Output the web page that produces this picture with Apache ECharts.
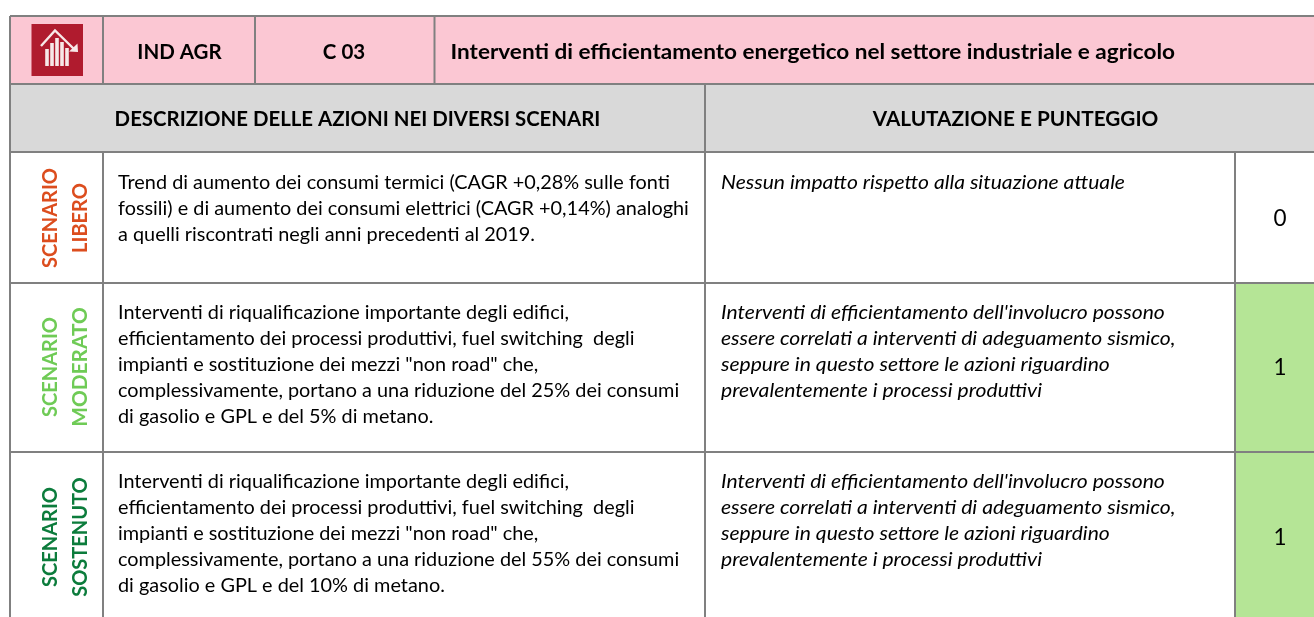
<!DOCTYPE html>
<html><head><meta charset="utf-8">
<style>html,body{margin:0;padding:0;background:#fff}#c{width:1314px;height:617px}</style>
<script src="https://cdn.jsdelivr.net/npm/echarts@6/dist/echarts.min.js"></script>
</head><body><div id="c"></div>
<script>
const headerLabels = ["IND AGR", "C 03"];
const headerTitle = "Interventi di efficientamento energetico nel settore industriale e agricolo";
const sectionHeaders = ["DESCRIZIONE DELLE AZIONI NEI DIVERSI SCENARI", "VALUTAZIONE E PUNTEGGIO"];
const scenarioNames = [["SCENARIO", "LIBERO"], ["SCENARIO", "MODERATO"], ["SCENARIO", "SOSTENUTO"]];
const descriptions = [
  ["Trend di aumento dei consumi termici (CAGR +0,28% sulle fonti",
   "fossili) e di aumento dei consumi elettrici (CAGR +0,14%) analoghi",
   "a quelli riscontrati negli anni precedenti al 2019."],
  ["Interventi di riqualificazione importante degli edifici,",
   "efficientamento dei processi produttivi, fuel switching  degli",
   "impianti e sostituzione dei mezzi \"non road\" che,",
   "complessivamente, portano a una riduzione del 25% dei consumi",
   "di gasolio e GPL e del 5% di metano."],
  ["Interventi di riqualificazione importante degli edifici,",
   "efficientamento dei processi produttivi, fuel switching  degli",
   "impianti e sostituzione dei mezzi \"non road\" che,",
   "complessivamente, portano a una riduzione del 55% dei consumi",
   "di gasolio e GPL e del 10% di metano."]
];
const evaluations = [
  ["Nessun impatto rispetto alla situazione attuale"],
  ["Interventi di efficientamento dell'involucro possono",
   "essere correlati a interventi di adeguamento sismico,",
   "seppure in questo settore le azioni riguardino",
   "prevalentemente i processi produttivi"],
  ["Interventi di efficientamento dell'involucro possono",
   "essere correlati a interventi di adeguamento sismico,",
   "seppure in questo settore le azioni riguardino",
   "prevalentemente i processi produttivi"]
];
const scores = [0, 1, 1];

const W = 1314, H = 617;
const FONT = "Lato, 'Noto Sans', sans-serif";
const LINE = "#808080", PINK = "#FBC7D3", GRAY = "#D9D9D9", GREEN = "#B5E596", RED = "#B01B2E", ICON_FG = "#F7E8E8";
const scenarioColors = ["#DC4D1E", "#6FCB56", "#0C7C3C"];
const textTop = [183, 313, 482];
const scoreY = [219, 368, 538];
const scenarioY = [218, 367, 537];

const items = [];
const rect = (x0, y0, x1, y1, fill) => items.push({k: "r", x0, y0, x1, y1, fill});
const line = (x0, y0, x1, y1) => items.push({k: "l", x0, y0, x1, y1});
const text = (t, x, y, o) => items.push(Object.assign({k: "t", t, x, y}, o));

rect(10, 16, W, 84, PINK);
rect(10, 84, W, 152, GRAY);
rect(1235, 283, W, H, GREEN);

[16, 84, 152, 283, 452].forEach(y => line(10, y, W, y));
line(10, 16, 10, H);
line(103, 16, 103, 84);
line(103, 152, 103, H);
line(255, 16, 255, 84);
line(434.5, 16, 434.5, 84);
line(705, 84, 705, H);
line(1235, 152, 1235, H);

items.push({k: "icon"});

text(headerLabels[0], 179.5, 52, {size: 20.5, bold: 1, align: "center"});
text(headerLabels[1], 344, 52, {size: 20.5, bold: 1, align: "center"});
text(headerTitle, 450.5, 52, {size: 20.5, bold: 1, align: "left", sx: 1.10});
text(sectionHeaders[0], 357.5, 119.5, {size: 20.4, bold: 1, align: "center"});
text(sectionHeaders[1], 1015.5, 119.5, {size: 20.4, bold: 1, align: "center", sx: 1.018});

scenarioNames.forEach((names, r) => {
  names.forEach((n, i) => text(n, i === 0 ? 51 : 80.5, scenarioY[r], {size: 20, bold: 1, align: "center", rot: Math.PI / 2, fill: scenarioColors[r], sx: n === "MODERATO" ? 1.04 : 1}));
  descriptions[r].forEach((l, i) => text(l, 118, textTop[r] + i * 26, {size: 20, align: "left", sx: 0.993}));
  evaluations[r].forEach((l, i) => text(l, 721, textTop[r] + i * 26, {size: 20, italic: 1, align: "left", sx: 1.055}));
  text(String(scores[r]), 1280, scoreY[r], {size: 22.5, align: "center"});
});

function pt(api, x, y) { return api.coord([x, y]); }

function iconGroup(api) {
  const c = [];
  const p = (x, y) => pt(api, x, y);
  const r0 = p(31.5, 24), r1 = p(83, 76);
  c.push({type: "rect", shape: {x: r0[0], y: r0[1], width: r1[0] - r0[0], height: r1[1] - r0[1]}, style: {fill: RED}});
  [[47, 49, 66], [52, 43, 66], [57, 38, 66], [62, 42, 66], [67, 48, 66]].forEach(b => {
    const a = p(b[0] - 1.8, b[1]), d = p(b[0] + 1.8, b[2]);
    c.push({type: "rect", shape: {x: a[0], y: a[1], width: d[0] - a[0], height: d[1] - a[1]}, style: {fill: ICON_FG}});
  });
  c.push({type: "polyline", shape: {points: [p(41, 46), p(55, 30.5), p(74, 49)]}, style: {stroke: ICON_FG, fill: null, lineWidth: 2.4}});
  c.push({type: "polygon", shape: {points: [p(78, 52), p(69, 51.5), p(77.5, 43.5)]}, style: {fill: ICON_FG}});
  return {type: "group", children: c};
}

const chart = echarts.init(document.getElementById("c"), null, {renderer: "canvas"});
chart.setOption({
  animation: false,
  backgroundColor: "#fff",
  grid: {left: 0, right: 0, top: 0, bottom: 0},
  xAxis: {type: "value", min: 0, max: W, show: false},
  yAxis: {type: "value", min: 0, max: H, inverse: true, show: false},
  tooltip: {show: false},
  series: [{
    type: "custom",
    coordinateSystem: "cartesian2d",
    clip: false,
    silent: true,
    data: items.map((it, i) => [it.x0 || it.x || 0, it.y0 || it.y || 0, i]),
    renderItem(params, api) {
      const it = items[params.dataIndex];
      if (it.k === "icon") return iconGroup(api);
      if (it.k === "r") {
        const a = pt(api, it.x0, it.y0), b = pt(api, it.x1, it.y1);
        return {type: "rect", shape: {x: a[0], y: a[1], width: b[0] - a[0], height: b[1] - a[1]}, style: {fill: it.fill}};
      }
      if (it.k === "l") {
        const a = pt(api, it.x0, it.y0), b = pt(api, it.x1, it.y1);
        return {type: "line", shape: {x1: a[0], y1: a[1], x2: b[0], y2: b[1]}, style: {stroke: LINE, lineWidth: 2}};
      }
      const a = pt(api, it.x, it.y);
      return {
        type: "text", x: a[0], y: a[1], rotation: it.rot || 0, scaleX: it.sx || 1,
        style: {
          text: it.t, fill: it.fill || "#000", align: it.align, verticalAlign: "middle",
          font: (it.italic ? "italic " : "") + (it.bold ? "bold " : "") + it.size + "px " + FONT
        }
      };
    }
  }]
});
</script></body></html>
